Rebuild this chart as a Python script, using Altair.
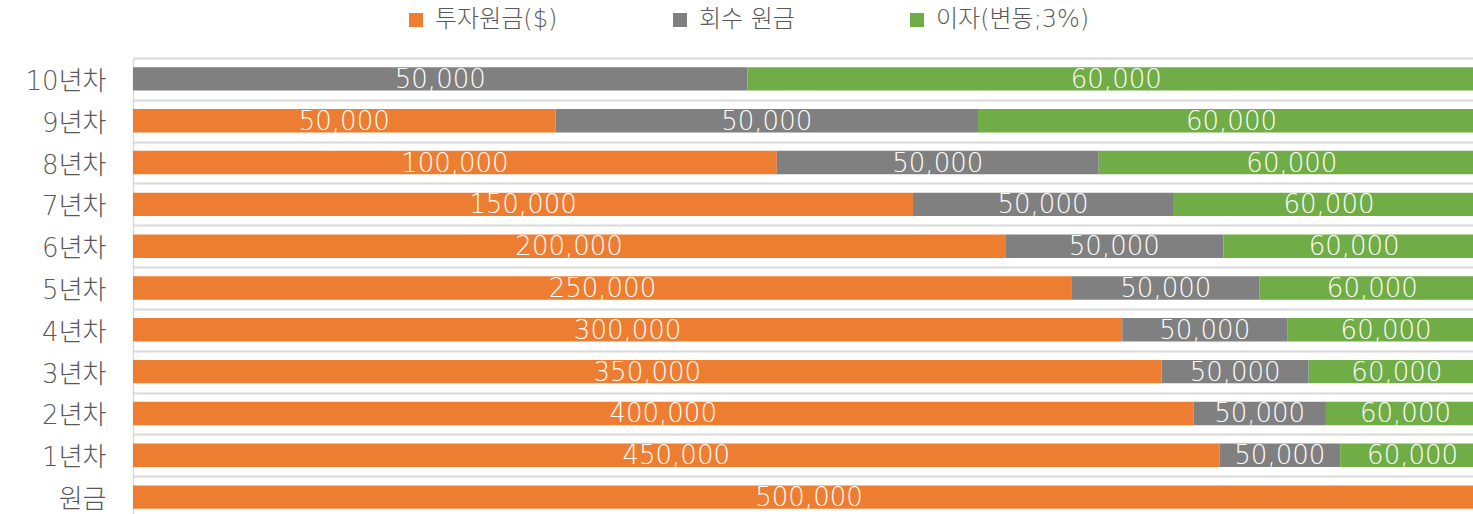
import altair as alt
import pandas as pd

categories = ["원금", "1년차", "2년차", "3년차", "4년차", "5년차", "6년차", "7년차", "8년차", "9년차", "10년차"]
principal = [500000, 450000, 400000, 350000, 300000, 250000, 200000, 150000, 100000, 50000, 0]
returned = [0, 50000, 50000, 50000, 50000, 50000, 50000, 50000, 50000, 50000, 50000]
interest = [0, 60000, 60000, 60000, 60000, 60000, 60000, 60000, 60000, 60000, 60000]

series_names = ["투자원금($)", "회수 원금", "이자(변동;3%)"]
colors = ["#ED7D31", "#808080", "#70AD47"]

rows = []
for i, c in enumerate(categories):
    for k, vals in enumerate([principal, returned, interest]):
        if vals[i] > 0:
            rows.append({"cat": c, "series": series_names[k], "order": k, "value": vals[i]})
df = pd.DataFrame(rows)

FONT = "DejaVu Sans, Noto Sans CJK KR"
y_order = categories[::-1]

base = alt.Chart(df).transform_stack(
    stack="value",
    groupby=["cat"],
    as_=["x0", "x1"],
    offset="normalize",
    sort=[alt.SortField("order", order="ascending")],
)

yenc = alt.Y(
    "cat:N",
    sort=y_order,
    title=None,
    scale=alt.Scale(range=[0, 460], paddingInner=0.44, paddingOuter=0.22),
    axis=alt.Axis(
        ticks=False,
        labelPadding=27,
        labelFontSize=26,
        labelFont=FONT,
        labelFontWeight=300,
        labelColor="#595959",
        domainColor="#d9d9d9",
        domainWidth=1.5,
        grid=True,
        gridColor="#d9d9d9",
        gridWidth=2,
        bandPosition=0,
        tickOffset=-9.2,
        labelOffset=11.7,
    ),
)

xscale = alt.Scale(domain=[0, 1], range=[0, 1352])

bars = base.mark_bar().encode(
    x=alt.X("x0:Q", scale=xscale, axis=None),
    x2="x1:Q",
    y=yenc,
    color=alt.Color(
        "series:N",
        scale=alt.Scale(domain=series_names, range=colors),
        sort=series_names,
        legend=alt.Legend(
            title=None,
            orient="none",
            direction="horizontal",
            legendX=271,
            legendY=-50,
            symbolType="square",
            symbolSize=196,
            symbolStrokeWidth=0,
            labelFontSize=24,
            labelFont=FONT,
            labelFontWeight=300,
            labelColor="#595959",
            labelOffset=7,
            columnPadding=110,
            labelLimit=300,
        ),
    ),
    order=alt.Order("order:Q"),
)

labels = base.transform_calculate(mid="(datum.x0 + datum.x1) / 2").mark_text(
    color="white", fontSize=26, font=FONT, fontWeight=300, align="center", baseline="middle", dy=1
).encode(
    x=alt.X("mid:Q", scale=xscale, axis=None),
    y=alt.Y("cat:N", sort=y_order),
    text=alt.Text("value:Q", format=","),
)

chart = (
    alt.layer(bars, labels)
    .properties(
        width=1340,
        height=456,
        autosize=alt.AutoSizeParams(type="none"),
        padding={"left": 133, "top": 58, "right": 0, "bottom": 0},
    )
    .configure_view(stroke=None)
)

chart.save("out.html", embed_options={"renderer": "svg", "actions": False})
